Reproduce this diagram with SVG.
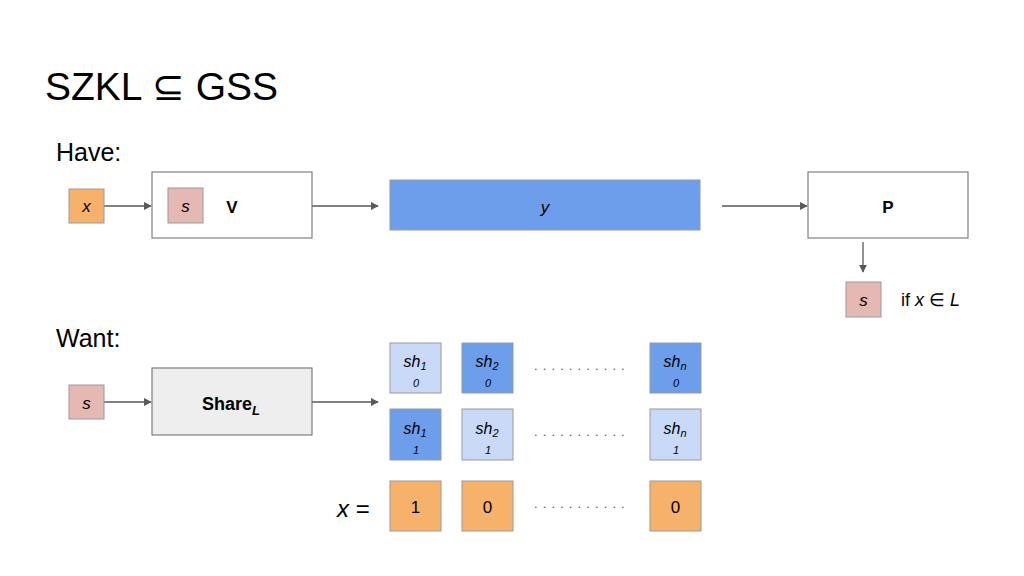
<svg xmlns="http://www.w3.org/2000/svg" width="1024" height="576" viewBox="0 0 1024 576">
<defs>
<style>
text{font-family:"Liberation Sans",Arial,sans-serif;fill:#000}
.box{stroke:#9a9a9a;stroke-width:1}
.wbox{fill:#fff;stroke:#666;stroke-width:1}
.or{fill:#f6b26b}
.pk{fill:#e6b8b3}
.lb{fill:#c9daf8}
.db{fill:#6d9eeb}
.gr{fill:#eeeeee;stroke:#666;stroke-width:1}
.con{stroke:#595959;stroke-width:1.3;fill:none;marker-end:url(#ah)}
.it{font-style:italic}
.b{font-weight:bold}
.dots{font-size:13px;fill:#555;letter-spacing:5.1px}
</style>
<marker id="ah" viewBox="0 0 10 10" refX="9" refY="5" markerWidth="8" markerHeight="8" markerUnits="userSpaceOnUse" orient="auto"><path d="M0,0L10,5L0,10z" fill="#595959"/></marker>
</defs>
<rect width="1024" height="576" fill="#fff"/>
<text x="45" y="100" font-size="39">SZKL ⊆ GSS</text>
<text x="56" y="161" font-size="25">Have:</text>
<text x="56" y="347" font-size="25">Want:</text>

<g id="connectors">
<line class="con" x1="104" y1="206" x2="151" y2="206"/>
<line class="con" x1="312" y1="206" x2="378" y2="206"/>
<line class="con" x1="722" y1="206" x2="807" y2="206"/>
<line class="con" x1="863" y1="242" x2="863" y2="272"/>
<line class="con" x1="104" y1="402" x2="151" y2="402"/>
<line class="con" x1="312" y1="402" x2="378" y2="402"/>
</g>

<g id="x-in">
<rect class="box or" x="69" y="189" width="35" height="34"/>
<text x="86.5" y="212" font-size="17" class="it" text-anchor="middle">x</text>
</g>
<g id="V">
<rect class="wbox" x="152" y="172" width="160" height="66"/>
<rect class="box pk" x="168" y="188" width="35" height="35"/>
<text x="185.5" y="212" font-size="17" class="it" text-anchor="middle">s</text>
<text x="232" y="213" font-size="17" class="b" text-anchor="middle">V</text>
</g>
<g id="y">
<rect class="box db" x="390" y="180" width="310" height="50"/>
<text x="545" y="213" font-size="17" class="it" text-anchor="middle">y</text>
</g>
<g id="P">
<rect class="wbox" x="808" y="172" width="160" height="66"/>
<text x="888" y="213" font-size="17" class="b" text-anchor="middle">P</text>
</g>
<g id="s-out">
<rect class="box pk" x="846" y="282" width="35" height="35"/>
<text x="863.5" y="306" font-size="17" class="it" text-anchor="middle">s</text>
<text x="901" y="306" font-size="18">if <tspan class="it">x</tspan> ∈ <tspan class="it">L</tspan></text>
</g>

<g id="s-in">
<rect class="box pk" x="69" y="385" width="35" height="34"/>
<text x="86.5" y="409" font-size="17" class="it" text-anchor="middle">s</text>
</g>
<g id="Share">
<rect class="gr" x="152" y="368" width="160" height="67"/>
<text x="231" y="410" font-size="18" class="b" text-anchor="middle">Share<tspan class="it" font-size="13" dy="5">L</tspan></text>
</g>

<g id="sh1-0">
<rect class="box lb" x="390" y="343" width="51" height="50"/>
<text x="415" y="367" font-size="16" class="it" text-anchor="middle">sh<tspan font-size="11" dy="3">1</tspan></text>
<text x="416" y="387" font-size="11" class="it" text-anchor="middle">0</text>
</g>
<g id="sh2-0">
<rect class="box db" x="462" y="343" width="51" height="50"/>
<text x="487" y="367" font-size="16" class="it" text-anchor="middle">sh<tspan font-size="11" dy="3">2</tspan></text>
<text x="488" y="387" font-size="11" class="it" text-anchor="middle">0</text>
</g>
<g id="shn-0">
<rect class="box db" x="650" y="343" width="51" height="50"/>
<text x="675" y="367" font-size="16" class="it" text-anchor="middle">sh<tspan font-size="11" dy="3">n</tspan></text>
<text x="676" y="387" font-size="11" class="it" text-anchor="middle">0</text>
</g>
<text class="dots" x="534" y="370">...........</text>

<g id="sh1-1">
<rect class="box db" x="390" y="409" width="51" height="51"/>
<text x="415" y="434" font-size="16" class="it" text-anchor="middle">sh<tspan font-size="11" dy="3">1</tspan></text>
<text x="416" y="454" font-size="11" class="it" text-anchor="middle">1</text>
</g>
<g id="sh2-1">
<rect class="box lb" x="462" y="409" width="51" height="51"/>
<text x="487" y="434" font-size="16" class="it" text-anchor="middle">sh<tspan font-size="11" dy="3">2</tspan></text>
<text x="488" y="454" font-size="11" class="it" text-anchor="middle">1</text>
</g>
<g id="shn-1">
<rect class="box lb" x="650" y="409" width="51" height="51"/>
<text x="675" y="434" font-size="16" class="it" text-anchor="middle">sh<tspan font-size="11" dy="3">n</tspan></text>
<text x="676" y="454" font-size="11" class="it" text-anchor="middle">1</text>
</g>
<text class="dots" x="534" y="436">...........</text>

<g id="xbits">
<text x="337" y="517" font-size="24"><tspan class="it">x</tspan> =</text>
<rect class="box or" x="390" y="481" width="51" height="50"/>
<text x="415.5" y="513" font-size="17" text-anchor="middle">1</text>
<rect class="box or" x="462" y="481" width="51" height="50"/>
<text x="487.5" y="513" font-size="17" text-anchor="middle">0</text>
<text class="dots" x="534" y="508">...........</text>
<rect class="box or" x="650" y="481" width="51" height="50"/>
<text x="675.5" y="513" font-size="17" text-anchor="middle">0</text>
</g>
</svg>
